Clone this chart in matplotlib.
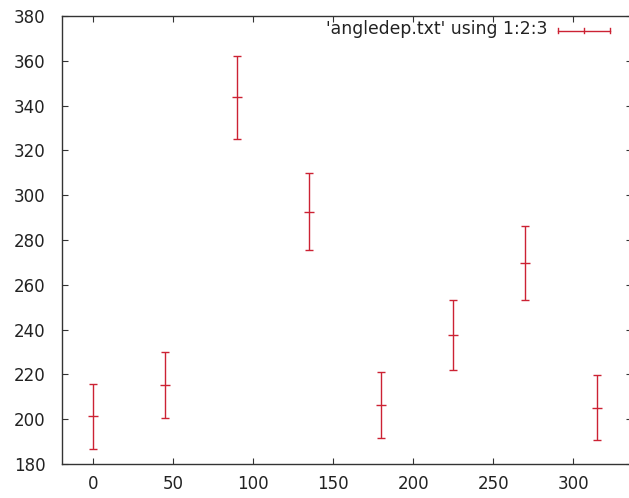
import matplotlib
matplotlib.use("Agg")
import matplotlib.pyplot as plt

# angle (deg), measured value, uncertainty
angles = [0, 45, 90, 135, 180, 225, 270, 315]
values = [201.3, 215.3, 343.7, 292.6, 206.4, 237.5, 269.6, 205.2]
errors = [14.4, 14.6, 18.4, 17.2, 14.6, 15.5, 16.6, 14.6]

x_ticks = [0, 50, 100, 150, 200, 250, 300]
y_ticks = [180, 200, 220, 240, 260, 280, 300, 320, 340, 360, 380]
legend_label = "'angledep.txt' using 1:2:3"

red = "#cc2233"
frame = "#333333"

fig = plt.figure(figsize=(6.29, 4.98), dpi=100)
ax = fig.add_axes([62 / 629, 34 / 498, 570 / 629, 448 / 498])

ax.errorbar(angles, values, yerr=errors, fmt="_", color=red, ecolor=red,
            elinewidth=1.0, capsize=2.8, capthick=1.0, markersize=7,
            markeredgewidth=1.0)

ax.set_xlim(-19.6, 336.7)
ax.set_ylim(180, 380)
ax.set_xticks(x_ticks)
ax.set_yticks(y_ticks)

for s in ax.spines.values():
    s.set_color(frame)
    s.set_linewidth(1.0)

ax.tick_params(axis="both", direction="in", length=4, width=0.8,
               colors=frame, labelcolor="#222222", labelsize=12,
               top=True, right=True)
ax.tick_params(axis="y", pad=12)
ax.tick_params(axis="x", pad=8)

# key entry in gnuplot style
ax.text(0.851, 0.970, legend_label, transform=ax.transAxes, ha="right",
        va="center", fontsize=12.4, color="#222222")
x0, x1, yk = 0.870, 0.961, 0.967
ax.plot([x0, x1], [yk, yk], transform=ax.transAxes, color=red, lw=1.0,
        clip_on=False)
for xx in (x0, (x0 + x1) / 2, x1):
    ax.plot([xx, xx], [yk - 0.006, yk + 0.006], transform=ax.transAxes,
            color=red, lw=1.0, clip_on=False)

fig.savefig("out.png", dpi=100)
